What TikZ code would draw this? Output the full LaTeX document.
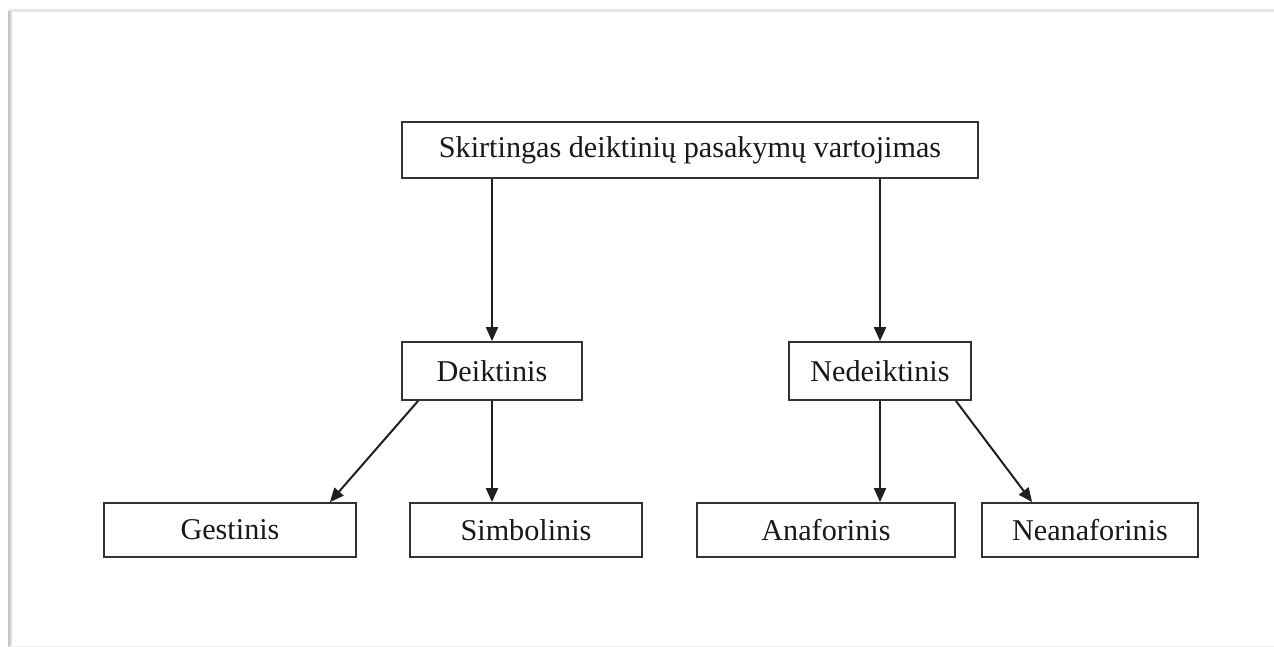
\documentclass[tikz,border=0pt]{standalone}
\usepackage{fontspec}
\setmainfont{Liberation Serif}
\usetikzlibrary{arrows.meta,calc}
\definecolor{edge}{HTML}{333333}
\definecolor{frameline}{HTML}{E6E6E6}
\definecolor{frameshadow}{HTML}{C4C4C4}
\tikzset{
  box/.style={draw=edge, line width=1.8bp, fill=white, inner sep=0pt,
    font=\fontsize{30.3}{36}\selectfont, text=black!90},
  link/.style={draw=black!88, line width=2bp,
    -{Triangle[length=14bp,width=12bp]}},
}
\begin{document}
\begin{tikzpicture}[x=1bp,y=-1bp]
  % page area
  \useasboundingbox (0,0) rectangle (1274,647);
  \fill[white] (0,0) rectangle (1274,647);
  \draw[frameline, line width=3bp] (9,11) -- (1274,11);
  \draw[frameshadow!60, line width=2bp] (11,11) -- (11,647);
  \draw[frameshadow, line width=1.5bp] (9,11) -- (9,647);
  \draw[frameline!60, line width=1bp] (9,646) -- (1274,646);

  % root
  \node[box, minimum width=576bp, minimum height=56bp] (root) at (690,150)
    {Skirtingas deiktinių pasakymų vartojimas};

  % second level
  \node[box, minimum width=180bp, minimum height=58bp] (deik) at (492,371) {Deiktinis};
  \node[box, minimum width=182bp, minimum height=58bp] (ned) at (880,371) {Nedeiktinis};

  % third level
  \node[box, minimum width=252bp, minimum height=54bp] (gest) at (230,530) {Gestinis};
  \node[box, minimum width=232bp, minimum height=54bp] (simb) at (526,530) {Simbolinis};
  \node[box, minimum width=258bp, minimum height=54bp] (ana) at (826,530) {Anaforinis};
  \node[box, minimum width=216bp, minimum height=54bp] (nean) at (1090,530) {Neanaforinis};

  % connectors
  \draw[link] (root.south -| deik.north) -- (deik.north);
  \draw[link] (root.south -| ned.north) -- (ned.north);
  \draw[link] ($(deik.south west)+(17,0)$) -- ($(gest.north east)+(-27,0)$);
  \draw[link] (deik.south) -- (deik.south |- simb.north);
  \draw[link] (ned.south) -- (ned.south |- ana.north);
  \draw[link] ($(ned.south east)+(-16,0)$) -- ($(nean.north west)+(51,0)$);
\end{tikzpicture}
\end{document}
